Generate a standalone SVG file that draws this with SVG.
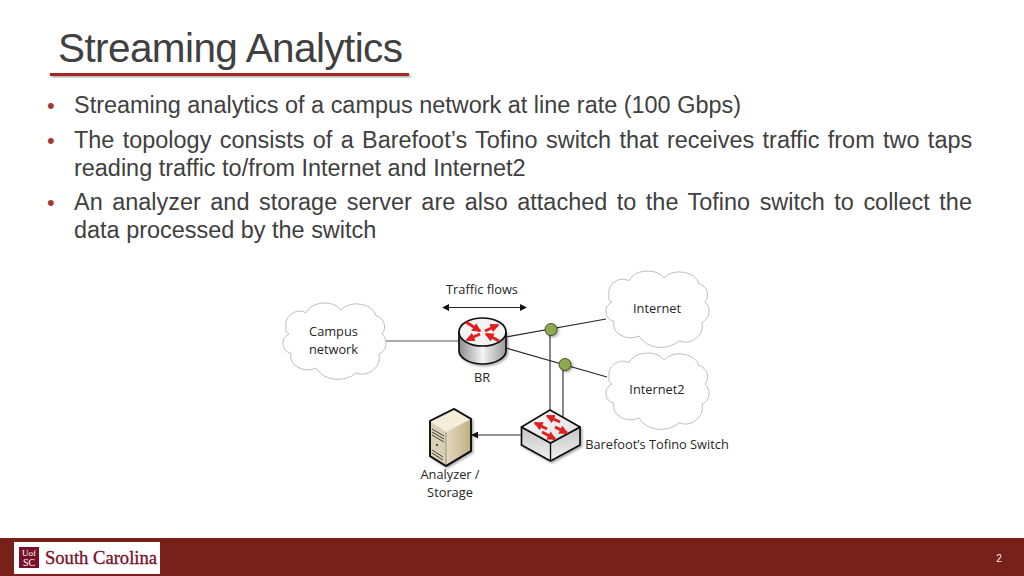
<svg xmlns="http://www.w3.org/2000/svg" width="1024" height="576" viewBox="0 0 1024 576">
<style>
text{font-family:"Liberation Sans",Arial,sans-serif}
.b{font-size:23.45px;fill:#404040}
.d{font-size:22px;fill:#a33a32}
.l{font-family:"Open Sans","Noto Sans",sans-serif;font-size:12.8px;fill:#262626;text-anchor:middle}
.c{fill:#fff;stroke:#bdbdbd;stroke-width:1}
.o{stroke:#111;stroke-width:1.7;stroke-linejoin:round}
.r{stroke:#e01f1f;stroke-width:3;fill:none;marker-end:url(#ra)}
</style>
<defs>
<marker id="a" viewBox="0 0 8 8" refX="7" refY="4" markerWidth="7" markerHeight="7" orient="auto-start-reverse" markerUnits="userSpaceOnUse"><path d="M0 0L8 4L0 8Z" fill="#111"/></marker>
<marker id="ra" viewBox="0 0 6 6" refX="5" refY="3" markerWidth="9" markerHeight="9" orient="auto" markerUnits="userSpaceOnUse"><path d="M0 0L6 3L0 6Z" fill="#e01f1f"/></marker>
<linearGradient id="cyl" x1="0" x2="1" y1="0" y2="0"><stop offset="0" stop-color="#8c8c8c"/><stop offset=".5" stop-color="#f4f4f4"/><stop offset="1" stop-color="#9a9a9a"/></linearGradient>
<linearGradient id="top" x1="0" x2="1" y1="0" y2="1"><stop offset="0" stop-color="#fff"/><stop offset="1" stop-color="#dcdcdc"/></linearGradient>
<linearGradient id="sw" x1="0" x2="0" y1="0" y2="1"><stop offset="0" stop-color="#c4c4c4"/><stop offset="1" stop-color="#f2f2f2"/></linearGradient>
<linearGradient id="srv" x1="0" x2="1" y1="0" y2="0"><stop offset="0" stop-color="#fbf7ea"/><stop offset="1" stop-color="#bfae80"/></linearGradient>
<path id="cl" d="M2 26A14 14 0 0 1 22 11A20 16 0 0 1 57 8A20 16 0 0 1 92 14A12 12 0 0 1 98 33A13 13 0 0 1 95 54A17 17 0 0 1 72 73A24 20 0 0 1 32 68A17 14 0 0 1 7 53A12 11 0 0 1 5 33A6 6 0 0 1 2 26Z"/>
<filter id="sh" x="-30%" y="-30%" width="170%" height="170%"><feDropShadow dx="1.5" dy="1.5" stdDeviation="1.2" flood-color="#000" flood-opacity=".35"/></filter>
</defs>
<rect width="1024" height="576" fill="#fff"/>

<g id="title">
<text x="58" y="62" font-size="40.500" fill="#404040" textLength="345" lengthAdjust="spacing">Streaming Analytics</text>
<rect x="50" y="73" width="359" height="3" fill="#9e2a22" filter="url(#sh)"/>
</g>

<g id="bullets">
<text class="d" x="47" y="113">•</text>
<text class="b" x="74" y="113">Streaming analytics of a campus network at line rate (100 Gbps)</text>
<text class="d" x="47" y="148">•</text>
<text class="b" x="74" y="148" word-spacing="1.85">The topology consists of a Barefoot’s Tofino switch that receives traffic from two taps</text>
<text class="b" x="74" y="176">reading traffic to/from Internet and Internet2</text>
<text class="d" x="47" y="210">•</text>
<text class="b" x="74" y="210" word-spacing="3.03">An analyzer and storage server are also attached to the Tofino switch to collect the</text>
<text class="b" x="74" y="238">data processed by the switch</text>
</g>

<g id="connectors" fill="none" stroke="#262626" stroke-width="1.1">
<line x1="386" y1="341" x2="459" y2="341" stroke="#555"/>
<line x1="506" y1="337" x2="606" y2="319"/>
<line x1="506" y1="348" x2="607" y2="377"/>
<line x1="550" y1="330" x2="550" y2="412"/>
<line x1="563" y1="365" x2="563" y2="420"/>
<line x1="522" y1="435" x2="472" y2="435" marker-end="url(#a)"/>
<line x1="443" y1="307.500" x2="526" y2="307.500" marker-start="url(#a)" marker-end="url(#a)"/>
</g>

<g id="campus"><use href="#cl" class="c" transform="translate(284,302) scale(1,.97)"/><text class="l" x="333.500" y="336">Campus</text><text class="l" x="333.500" y="354">network</text></g>
<g id="internet"><use href="#cl" class="c" transform="translate(607,270) scale(1,.97)"/><text class="l" x="657" y="313">Internet</text></g>
<g id="internet2"><use href="#cl" class="c" transform="translate(607,352) scale(1,.97)"/><text class="l" x="657" y="394">Internet2</text></g>

<g id="traffic-flows"><text class="l" x="482" y="294">Traffic flows</text></g>

<g id="br">
<path class="o" d="M459 332V351C459 358 470 364 482.500 364C495 364 506 358 506 351V332Z" fill="url(#cyl)" filter="url(#sh)"/>
<ellipse class="o" cx="482.500" cy="332" rx="23.500" ry="14" fill="#f4f4f4"/>
<path class="r" d="M466 322L480 331"/><path class="r" d="M485 331L498 325"/><path class="r" d="M480 334L467 340"/><path class="r" d="M499 341L486 334"/>
<text class="l" x="482" y="382">BR</text>
</g>

<g id="tap1"><circle cx="551" cy="329.500" r="6" fill="#8fa94f" stroke="#2c3318" stroke-width=".8" filter="url(#sh)"/></g>
<g id="tap2"><circle cx="565" cy="364.500" r="6" fill="#8fa94f" stroke="#2c3318" stroke-width=".8" filter="url(#sh)"/></g>

<g id="switch">
<path class="o" d="M521.500 427V445L550.500 461L580 445V427L550.500 443Z" fill="url(#sw)" filter="url(#sh)"/>
<path class="o" d="M521.500 427L550 410L580 427L550.500 443Z" fill="url(#top)"/>
<line x1="550.500" y1="443" x2="550.500" y2="461" stroke="#111" stroke-width="1.400"/>
<path class="r" d="M560 422L547 416"/><path class="r" d="M547 429L535 423"/><path class="r" d="M555 427L567 433"/><path class="r" d="M542 432L555 439"/>
<text class="l" x="657" y="449">Barefoot’s Tofino Switch</text>
</g>

<g id="analyzer">
<path class="o" d="M430 421L454 409L471 419V451L446 466L430 456Z" fill="url(#srv)" filter="url(#sh)"/>
<path d="M430 421L454 409L471 419L446 432Z" fill="#f3edda"/>
<path d="M431 422L446 432V465L431 456Z" fill="#d9cfb2"/>
<path d="M446 432V465" stroke="#8d8468" stroke-width=".8"/>
<path d="M432 429L444 436M432 432L444 439M432 435L444 442M432 450L443 457M432 453L443 460" stroke="#444" stroke-width="1"/>
<circle cx="437" cy="445" r="1.200" fill="#555"/>
<path class="o" d="M430 421L454 409L471 419V451L446 466L430 456Z" fill="none"/>
<text class="l" x="450" y="479">Analyzer /</text><text class="l" x="450" y="497">Storage</text>
</g>

<g id="footer">
<rect y="538" width="1024" height="38" fill="#77211a"/>
<rect x="14" y="542" width="146" height="32" fill="#fff"/>
<rect x="19" y="547" width="20" height="21" fill="#77122a"/>
<text x="29" y="556" font-size="9" fill="#fff" text-anchor="middle" style="font-family:'Liberation Serif',serif">Uof</text>
<text x="29" y="566" font-size="10" fill="#fff" text-anchor="middle" style="font-family:'Liberation Serif',serif">SC</text>
<text x="45" y="564" font-size="19.500" fill="#77122a" stroke="#77122a" stroke-width=".35" textLength="112" lengthAdjust="spacingAndGlyphs" style="font-family:'Liberation Serif',serif">South Carolina</text>
<text x="999" y="562" font-size="10" fill="#eee" text-anchor="middle">2</text>
</g>
</svg>
